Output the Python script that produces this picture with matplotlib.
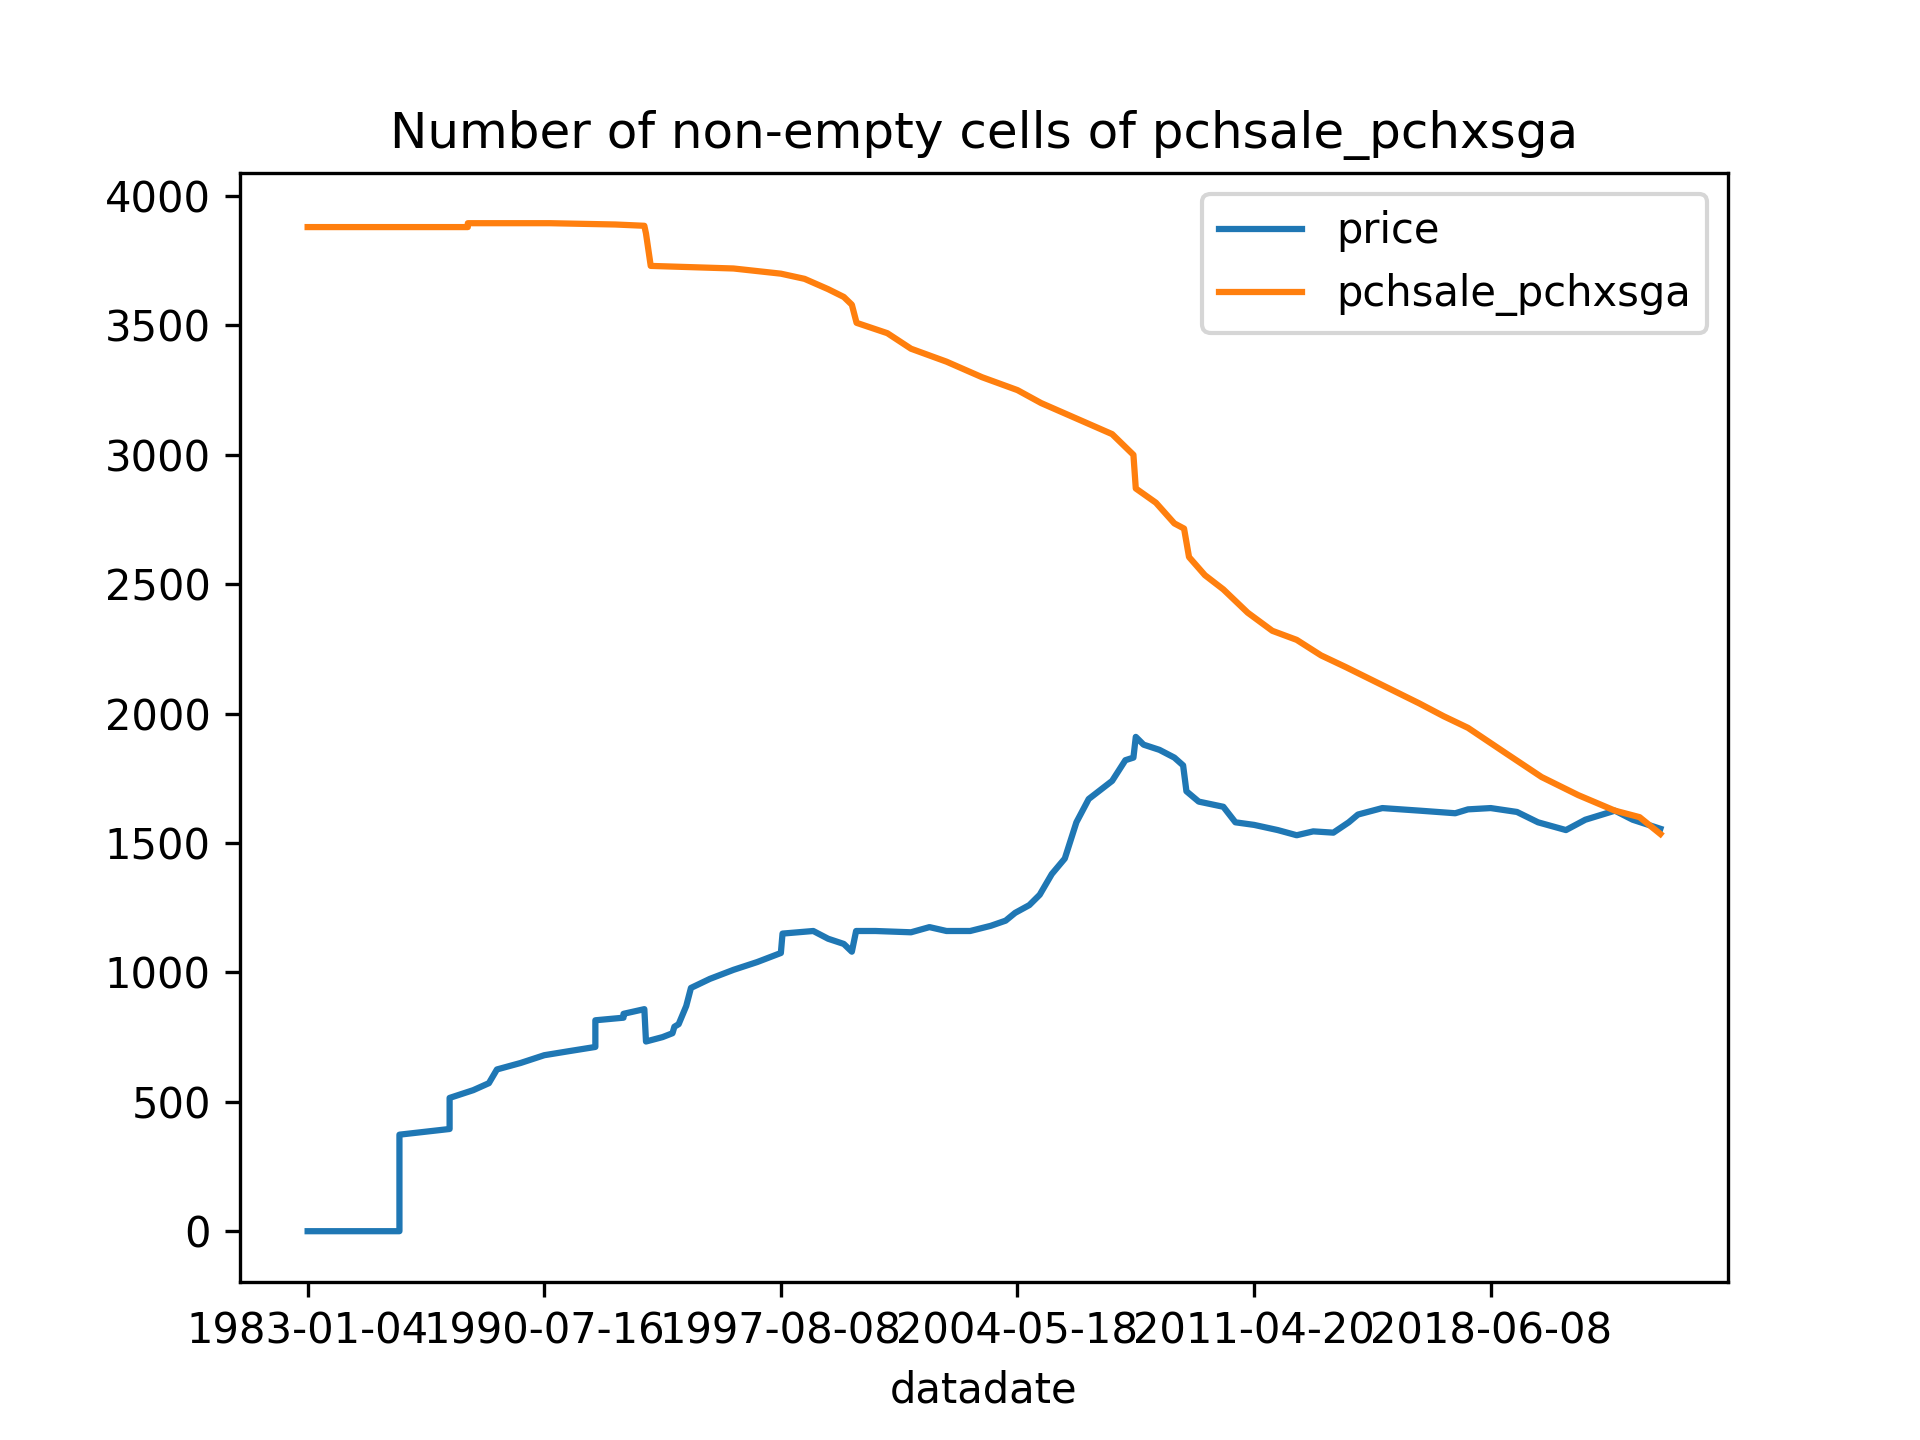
import matplotlib
matplotlib.use("Agg")
import matplotlib.pyplot as plt

# x positions are expressed in units of tick spacing along the (categorical) date axis
tick_labels = ['1983-01-04', '1990-07-16', '1997-08-08', '2004-05-18', '2011-04-20', '2018-06-08']

price_x = [0, 0.388, 0.388, 0.60, 0.60, 0.70, 0.766, 0.80, 0.90, 1.0, 1.1, 1.216, 1.216, 1.335,
           1.335, 1.423, 1.43, 1.50, 1.542, 1.55, 1.568, 1.60, 1.62, 1.70, 1.80, 1.90, 2.0, 2.007,
           2.137, 2.20, 2.266, 2.30, 2.318, 2.40, 2.55, 2.628, 2.70, 2.80, 2.887, 2.95, 2.99, 3.05,
           3.094, 3.145, 3.20, 3.249, 3.301, 3.40, 3.456, 3.49, 3.50, 3.533, 3.60, 3.663, 3.70,
           3.714, 3.766, 3.87, 3.921, 4.0, 4.10, 4.18, 4.25, 4.335, 4.40, 4.439, 4.542, 4.70, 4.85,
           4.904, 5.0, 5.111, 5.20, 5.318, 5.40, 5.525, 5.60, 5.717]
price_y = [0, 0, 373, 395, 515, 545, 572, 625, 650, 680, 695, 712, 815, 825,
           840, 858, 733, 750, 765, 790, 800, 870, 940, 975, 1010, 1040, 1075, 1150,
           1160, 1130, 1110, 1080, 1160, 1160, 1155, 1175, 1160, 1160, 1180, 1200, 1230, 1260,
           1300, 1380, 1440, 1580, 1670, 1740, 1820, 1830, 1910, 1880, 1860, 1830, 1800,
           1700, 1660, 1640, 1580, 1570, 1550, 1530, 1545, 1540, 1580, 1610, 1635, 1625, 1615,
           1630, 1635, 1620, 1580, 1550, 1590, 1625, 1590, 1555]

pch_x = [0, 0.677, 0.677, 1.024, 1.30, 1.423, 1.43, 1.45, 1.80, 2.0, 2.10, 2.20, 2.266, 2.30,
         2.32, 2.45, 2.55, 2.70, 2.85, 3.00, 3.10, 3.25, 3.40, 3.49, 3.50, 3.585, 3.663, 3.704,
         3.725, 3.792, 3.870, 3.973, 4.077, 4.180, 4.283, 4.387, 4.542, 4.697, 4.801, 4.904,
         5.059, 5.215, 5.370, 5.525, 5.629, 5.717]
pch_y = [3880, 3880, 3895, 3895, 3890, 3885, 3855, 3730, 3720, 3700, 3680, 3640, 3610, 3580,
         3510, 3470, 3410, 3360, 3300, 3250, 3200, 3140, 3080, 3000, 2870, 2815, 2735, 2715,
         2605, 2535, 2480, 2390, 2320, 2285, 2225, 2180, 2110, 2040, 1990, 1945,
         1850, 1755, 1685, 1625, 1600, 1535]

fig, ax = plt.subplots(figsize=(6.4, 4.8))
ax.plot(price_x, price_y, label='price')
ax.plot(pch_x, pch_y, label='pchsale_pchxsga')
ax.set_xticks(range(len(tick_labels)))
ax.set_xticklabels(tick_labels)
ax.set_xlabel('datadate')
ax.set_title('Number of non-empty cells of pchsale_pchxsga')
ax.legend()
fig.savefig('out.png', dpi=300)
